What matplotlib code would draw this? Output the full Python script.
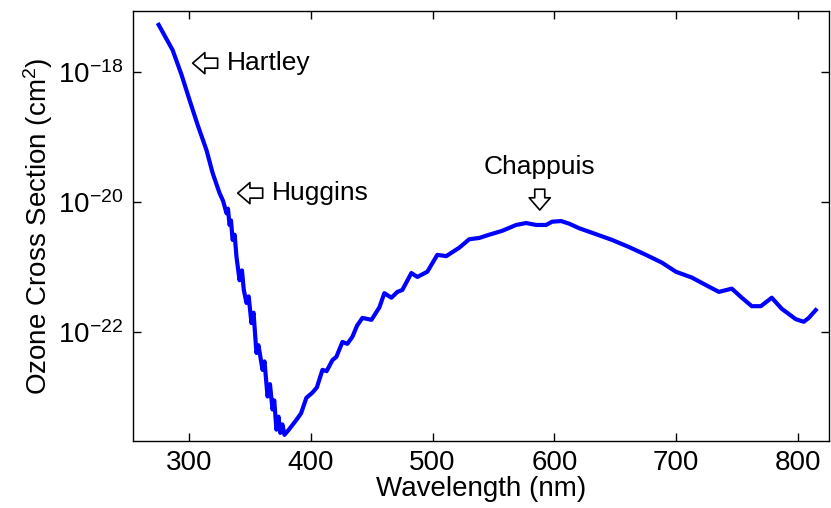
import matplotlib
matplotlib.use("Agg")
import matplotlib.pyplot as plt
from matplotlib.ticker import FixedLocator, NullLocator

plt.rcParams['font.family'] = ['Liberation Sans', 'DejaVu Sans']
plt.rcParams['mathtext.fontset'] = 'custom'
plt.rcParams['mathtext.rm'] = 'Liberation Sans'
plt.rcParams['mathtext.it'] = 'Liberation Sans'

# longitud de onda (nm) y log10 de la seccion eficaz (cm^2)
wavelength = [275.1, 286.6, 293.9, 300.5, 307.1, 314.4, 319.4, 325.1, 328.0, 330.8,
              332.0, 333.3, 334.5, 335.8, 337.5, 339.0, 341.5, 343.5, 345.0, 347.2,
              349.0, 351.3, 353.0, 355.4, 357.0, 360.4, 362.0, 364.5, 366.5, 368.6,
              370.0, 371.8, 373.5, 375.0, 376.7, 378.4, 382.0, 388.2, 392.0, 396.4,
              401.4, 405.0, 409.6, 413.0, 417.8, 421.0, 426.0, 430.0, 434.2, 438.0,
              442.4, 449.8, 456.3, 460.4, 466.2, 471.1, 475.2, 482.6, 487.5, 495.7,
              503.9, 511.2, 521.9, 530.1, 538.3, 546.5, 557.2, 568.6, 576.8, 585.0,
              593.2, 598.1, 605.5, 612.1, 620.3, 630.9, 647.3, 661.3, 675.2, 688.3,
              699.8, 712.9, 726.9, 735.1, 745.7, 753.9, 762.1, 769.5, 778.5, 786.7,
              798.2, 804.8, 808.9, 814.6]
log_sigma = [-17.27, -17.66, -18.04, -18.43, -18.81, -19.20, -19.55, -19.86, -19.98, -20.17,
             -20.10, -20.35, -20.28, -20.58, -20.50, -20.84, -21.20, -21.05, -21.35, -21.55,
             -21.45, -21.86, -21.70, -22.32, -22.20, -22.58, -22.45, -22.99, -22.80, -23.19,
             -23.05, -23.50, -23.30, -23.55, -23.42, -23.58, -23.50, -23.35, -23.25, -23.01,
             -22.93, -22.85, -22.58, -22.60, -22.43, -22.38, -22.15, -22.18, -22.07, -21.90,
             -21.78, -21.81, -21.62, -21.40, -21.47, -21.38, -21.35, -21.09, -21.15, -21.07,
             -20.81, -20.83, -20.70, -20.57, -20.55, -20.50, -20.44, -20.35, -20.32, -20.35,
             -20.35, -20.30, -20.29, -20.33, -20.40, -20.47, -20.58, -20.69, -20.81, -20.93,
             -21.07, -21.16, -21.30, -21.38, -21.33, -21.47, -21.60, -21.60, -21.47, -21.64,
             -21.80, -21.84, -21.78, -21.66]
sigma = [10 ** v for v in log_sigma]

y_ticks = [1e-18, 1e-20, 1e-22]
y_tick_labels = [r'$10^{-18}$', r'$10^{-20}$', r'$10^{-22}$']
x_ticks = [300, 400, 500, 600, 700, 800]

fig = plt.figure(figsize=(8.31, 5.08), dpi=100)
ax = fig.add_axes([0.160, 0.1325, 0.8376, 0.8455])

ax.plot(wavelength, sigma, color='#0000ff', linewidth=3)
ax.set_yscale('log')
ax.set_xlim(254, 825.5)
ax.set_ylim(10 ** -23.67, 10 ** -17.06)

ax.yaxis.set_major_locator(FixedLocator(y_ticks))
ax.yaxis.set_minor_locator(NullLocator())
ax.set_yticklabels(y_tick_labels)
ax.set_xticks(x_ticks)
ax.tick_params(direction='in', length=6, width=1, labelsize=20, top=True, right=True, pad=7)
for s in ax.spines.values():
    s.set_linewidth(1)

ax.set_xlabel('Wavelength (nm)', fontsize=20, labelpad=0)
ax.set_ylabel('Ozone Cross Section (cm$^2$)', fontsize=20, labelpad=2)

flecha = dict(arrowstyle='simple,head_length=0.55,head_width=0.95,tail_width=0.45',
              fc='white', ec='black', lw=1.2, mutation_scale=16, shrinkA=0, shrinkB=0)

# Hartley
ax.annotate('', xy=(303, 10 ** -17.86), xytext=(323.5, 10 ** -17.86), arrowprops=flecha)
ax.text(331, 10 ** -17.86, 'Hartley', fontsize=19, va='center', ha='left')
# Huggins
ax.annotate('', xy=(340, 10 ** -19.86), xytext=(360.5, 10 ** -19.86), arrowprops=flecha)
ax.text(368, 10 ** -19.86, 'Huggins', fontsize=19, va='center', ha='left')
# Chappuis
ax.annotate('', xy=(588, 10 ** -20.12), xytext=(588, 10 ** -19.80), arrowprops=flecha)
ax.text(588, 10 ** -19.46, 'Chappuis', fontsize=19, va='center', ha='center')

plt.savefig('out.png', dpi=100)
